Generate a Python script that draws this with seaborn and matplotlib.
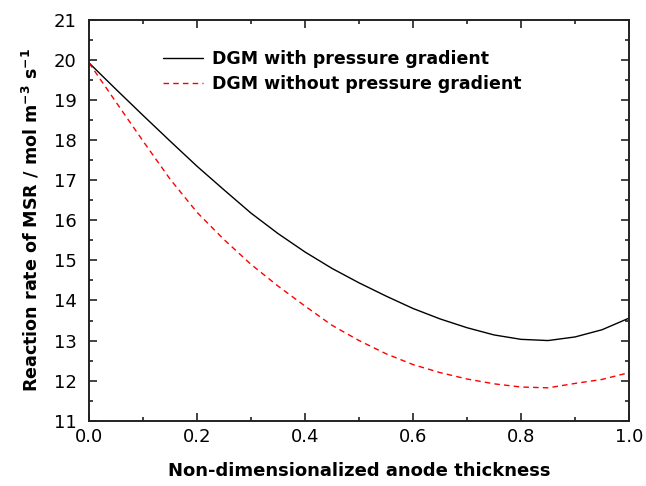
import numpy as np
import pandas as pd
import matplotlib
matplotlib.use("Agg")
import matplotlib.pyplot as plt
import seaborn as sns
from matplotlib.ticker import MultipleLocator

sns.set_theme(style="ticks")
plt.rcParams['font.family'] = ['DejaVu Sans']
plt.rcParams['text.color'] = 'black'
plt.rcParams['axes.labelcolor'] = 'black'
plt.rcParams['mathtext.fontset'] = 'custom'
plt.rcParams['mathtext.rm'] = 'DejaVu Sans:bold'
plt.rcParams['mathtext.bf'] = 'DejaVu Sans:bold'

x = [0.0, 0.05, 0.1, 0.15, 0.2, 0.25, 0.3, 0.35, 0.4, 0.45, 0.5,
     0.55, 0.6, 0.65, 0.7, 0.75, 0.8, 0.85, 0.9, 0.95, 1.0]
with_grad = [19.93, 19.27, 18.62, 17.98, 17.35, 16.76, 16.18, 15.67, 15.21, 14.80, 14.44,
             14.11, 13.80, 13.54, 13.32, 13.14, 13.03, 13.00, 13.09, 13.27, 13.56]
without_grad = [19.93, 18.95, 17.98, 17.03, 16.20, 15.52, 14.90, 14.36, 13.86, 13.38, 13.00,
                12.67, 12.40, 12.20, 12.04, 11.92, 11.84, 11.82, 11.93, 12.03, 12.20]
labels = ["DGM with pressure gradient", "DGM without pressure gradient"]

df = pd.DataFrame({
    "x": x * 2,
    "y": with_grad + without_grad,
    "series": [labels[0]] * len(x) + [labels[1]] * len(x),
})

fig = plt.figure(figsize=(6.46, 4.86), dpi=100)
ax = fig.add_axes([0.1378, 0.1344, 0.836, 0.8244])

sns.lineplot(data=df, x="x", y="y", hue="series", style="series",
             palette={labels[0]: "black", labels[1]: "red"},
             dashes={labels[0]: "", labels[1]: (4, 3)},
             linewidth=1.0, ax=ax, legend=True)

ax.set_xlim(0, 1)
ax.set_ylim(11, 21)
ax.xaxis.set_major_locator(MultipleLocator(0.2))
ax.xaxis.set_minor_locator(MultipleLocator(0.1))
ax.yaxis.set_major_locator(MultipleLocator(1))
ax.yaxis.set_minor_locator(MultipleLocator(0.5))
ax.set_xticklabels([f"{v:.1f}" for v in ax.get_xticks()])
ax.tick_params(which="both", direction="in", top=True, right=True, width=1.2,
               labelsize=13, colors="#222222", labelcolor="black")
ax.tick_params(which="major", length=6)
ax.tick_params(axis="x", which="major", pad=5)
ax.tick_params(axis="y", which="major", pad=9)
ax.tick_params(which="minor", length=3)
for s in ax.spines.values():
    s.set_linewidth(1.4)
    s.set_color("#222222")

ax.set_xlabel("Non-dimensionalized anode thickness", fontsize=13, fontweight="bold",
              labelpad=12, color="black")
ax.set_ylabel(r"Reaction rate of MSR / mol m$^{-3}$ s$^{-1}$", fontsize=12.6, fontweight="bold",
              labelpad=9, color="black")

leg = ax.legend(loc="upper left", bbox_to_anchor=(0.108, 0.965), frameon=False,
                fontsize=12.5, handlelength=2.3, handletextpad=0.5, labelspacing=0.45)
for t in leg.get_texts():
    t.set_fontweight("bold")
    t.set_color("black")

fig.savefig("out.png", dpi=100)
